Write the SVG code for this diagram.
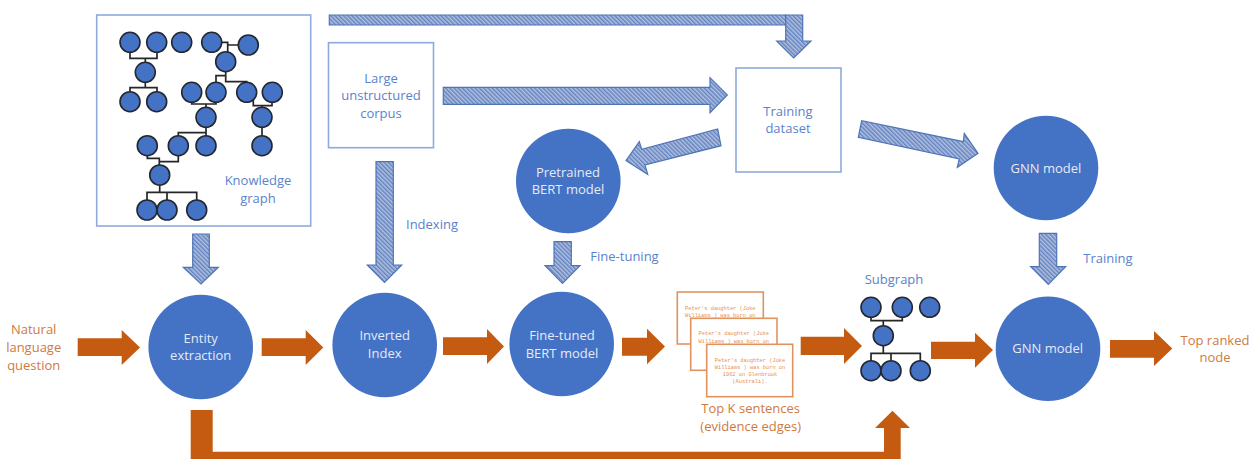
<svg xmlns="http://www.w3.org/2000/svg" width="1251" height="459" viewBox="0 0 1251 459">
<style>
text{font-family:"Open Sans","Noto Sans","Liberation Sans",sans-serif;font-size:13px;text-anchor:middle}
.w{fill:#e4eaf6}.b{fill:#5a82cd}.o{fill:#cf7a3f}
.big{fill:#4472c4}
.box{fill:#fff;stroke:#8eaadb;stroke-width:1.6}
.card{fill:#fff;stroke:#e0935f;stroke-width:1.6}
.m{fill:#4472c4;stroke:#23272f;stroke-width:1.6}
.l{fill:none;stroke:#262626;stroke-width:1.7}
.h{fill:url(#hatch);stroke:#4f74b5;stroke-width:1.2}
.a{fill:#c55a11}
.s{font-family:"Liberation Mono",monospace;font-size:5.35px;fill:#e58f55}
</style>
<defs>
<pattern id="hatch" width="3" height="3" patternUnits="userSpaceOnUse" patternTransform="rotate(-45)">
<rect width="3" height="3" fill="#b2c1e1"/>
<rect width="1.5" height="3" fill="#6484c0"/>
</pattern>
</defs>
<rect width="1251" height="459" fill="#fff"/>

<g id="knowledge-graph">
<rect class="box" x="96.7" y="15" width="214" height="211"/>
<path class="l" d="M130 50V58.3H157V50M145.3 58.3V65M145.3 80V87.7M130 95V87.7H157V95M221 42.3H227.7V52M227.7 45H238M225.7 71V81.7H246.7V83M225.7 75.7H216V83M191.7 101V104H216V101M206 104V108M253.3 100V105.7H272V101M262 105.7V108M262 127V136M206 127V136M206 132.7H178.3V136M147.3 155V158.3H159.3V165M159.3 161.7H178.3V155M159.7 185V192.3M147 200V192.3H196.7V200M167 192.3V200"/>
<g>
<circle class="m" cx="130" cy="42.3" r="10"/><circle class="m" cx="156.7" cy="42.3" r="10"/><circle class="m" cx="181.7" cy="42.3" r="10"/><circle class="m" cx="211.7" cy="42.3" r="10"/><circle class="m" cx="248.3" cy="45" r="10"/><circle class="m" cx="225.7" cy="61.7" r="10"/><circle class="m" cx="145.3" cy="72.3" r="10"/><circle class="m" cx="130" cy="101.7" r="10"/><circle class="m" cx="156.7" cy="101.7" r="10"/><circle class="m" cx="191.7" cy="92.3" r="10"/><circle class="m" cx="216" cy="92.3" r="10"/><circle class="m" cx="246.7" cy="92.3" r="10"/><circle class="m" cx="272.3" cy="92.3" r="10"/><circle class="m" cx="206" cy="117.3" r="10"/><circle class="m" cx="262" cy="117.3" r="10"/><circle class="m" cx="147.3" cy="145.7" r="10"/><circle class="m" cx="178.3" cy="145.7" r="10"/><circle class="m" cx="206" cy="145.7" r="10"/><circle class="m" cx="262" cy="145.7" r="10"/><circle class="m" cx="159.7" cy="175" r="10"/><circle class="m" cx="147" cy="210" r="10"/><circle class="m" cx="167" cy="210" r="10"/><circle class="m" cx="196.7" cy="210" r="10"/>
</g>
<text class="b" x="258" y="185">Knowledge</text>
<text class="b" x="258" y="202.500">graph</text>
</g>

<g id="corpus">
<rect class="box" x="328.5" y="42.700" width="105" height="105"/>
<text class="b" x="381" y="82.500">Large</text>
<text class="b" x="381" y="100">unstructured</text>
<text class="b" x="381" y="117.500">corpus</text>
</g>

<g id="training-dataset">
<rect class="box" x="736" y="68" width="105" height="104"/>
<text class="b" x="788" y="116">Training</text>
<text class="b" x="788" y="133">dataset</text>
</g>

<g id="pretrained-bert">
<circle class="big" cx="568.300" cy="181" r="52.300"/>
<text class="w" x="568" y="176.500">Pretrained</text>
<text class="w" x="568" y="193.500">BERT model</text>
</g>

<g id="gnn-top">
<circle class="big" cx="1046" cy="168" r="52.300"/>
<text class="w" x="1046" y="172.500">GNN model</text>
</g>

<g id="entity-extraction">
<circle class="big" cx="200.700" cy="347" r="52.300"/>
<text class="w" x="200.700" y="342.500">Entity</text>
<text class="w" x="200.700" y="360">extraction</text>
</g>

<g id="inverted-index">
<circle class="big" cx="384.700" cy="345" r="52.300"/>
<text class="w" x="384.700" y="339.500">Inverted</text>
<text class="w" x="384.700" y="357.500">Index</text>
</g>

<g id="fine-tuned-bert">
<circle class="big" cx="561.700" cy="344" r="52.300"/>
<text class="w" x="562" y="339.500">Fine-tuned</text>
<text class="w" x="562" y="357.500">BERT model</text>
</g>

<g id="gnn-bottom">
<circle class="big" cx="1048" cy="348.700" r="52.300"/>
<text class="w" x="1047.700" y="352.500">GNN model</text>
</g>

<g id="top-k-sentences">
<rect class="card" x="677.300" y="292" width="86" height="52"/>
<text class="s" x="720.300" y="310">Peter's daughter (Joke</text>
<text class="s" x="720.300" y="317">Williams ) was born on</text>
<rect class="card" x="690.700" y="318.300" width="86.300" height="52"/>
<text class="s" x="733.800" y="335">Peter's daughter (Joke</text>
<text class="s" x="733.800" y="342.500">Williams ) was born on</text>
<rect class="card" x="706.700" y="344.300" width="86" height="52.400"/>
<text class="s" x="750" y="361.500">Peter's daughter (Joke</text>
<text class="s" x="750" y="368.800">Williams ) was born on</text>
<text class="s" x="750" y="376">1962 on Glenbrook</text>
<text class="s" x="750" y="383.300">(Australi).</text>
<text class="o" x="750.700" y="412.800">Top K sentences</text>
<text class="o" x="750.700" y="431">(evidence edges)</text>
</g>

<g id="subgraph">
<path class="l" d="M871 316V320.700H902.300V316M883.300 320.700V327M883.300 344V353.300M871 362V353.300H920.300V362M891 353.300V362"/>
<circle class="m" cx="871" cy="307.300" r="10"/><circle class="m" cx="902.300" cy="307.300" r="10"/><circle class="m" cx="929.700" cy="307.300" r="10"/><circle class="m" cx="883.300" cy="335.700" r="10"/><circle class="m" cx="871" cy="370.700" r="10"/><circle class="m" cx="891" cy="370.700" r="10"/><circle class="m" cx="920.300" cy="370.700" r="10"/>
<text class="b" x="894" y="283.500">Subgraph</text>
</g>

<g id="labels">
<text class="o" x="33.700" y="334">Natural</text>
<text class="o" x="33.700" y="352">language</text>
<text class="o" x="33.700" y="369.500">question</text>
<text class="b" x="432" y="228.500">Indexing</text>
<text class="b" x="624.500" y="261">Fine-tuning</text>
<text class="b" x="1108" y="262.500">Training</text>
<text class="o" x="1215" y="344.500">Top ranked</text>
<text class="o" x="1215" y="361.800">node</text>
</g>

<g id="connectors">
<path class="h" d="M329.300 15H785.700V25H329.300Z"/>
<path class="h" d="M785.700 15H802.700V41H811L793.700 58L776.700 41H785.700Z"/>
<path class="h" d="M443.300 87.300H710V77.700L727.300 95L710 112.700V104.300H443.300Z"/>
<path class="h" d="M717.700 129L721 145.700L645 165L647.700 174.300L626 160.700L639.300 141.700L641.700 149.300Z"/>
<path class="h" d="M861.700 120.700L858.300 137.300L959.300 159L957.300 167.300L978 153.300L964.300 133.300L963.300 141.700Z"/>
<path class="h" d="M192.700 234H209.300V267.300H218.300L201 284L183.300 267.300H192.700Z"/>
<path class="h" d="M376 161.700H393.300V265H401.700L384.500 282.300L367.300 265H376Z"/>
<path class="h" d="M554 241.700H571.300V265.700H580L562.500 283.300L545 265.700H554Z"/>
<path class="h" d="M1039.300 233.300H1056.700V266.700H1065.700L1048.300 284.300L1030.700 266.700H1039.300Z"/>
<path class="a" d="M77.700 338.300H121.700V330L140 347.500L121.700 365V356H77.700Z"/>
<path class="a" d="M261.700 338.300H305.700V330L323.300 347.500L305.700 365V356H261.700Z"/>
<path class="a" d="M443 337.300H487V329L504 346.500L487 364V355H443Z"/>
<path class="a" d="M622 337.700H647V328.700L665 346.500L647 364.300V355.700H622Z"/>
<path class="a" d="M800.700 336.700H844V328L862 346L844 364V355H800.700Z"/>
<path class="a" d="M931 341.700H975V332.700L993 350L975 367.700V359H931Z"/>
<path class="a" d="M1110 340H1154V331L1172.300 348.500L1154 366V357.700H1110Z"/>
<path class="a" d="M190.700 410H212.700V451.700H884V428H875L892.500 410.700L910 428H900.700V459H190.700Z"/>
</g>
</svg>
